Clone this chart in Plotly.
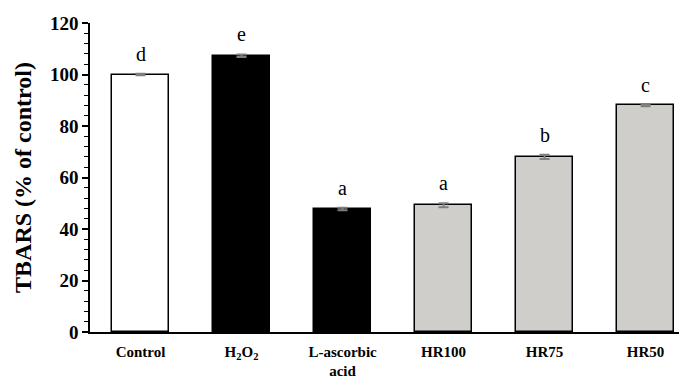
import plotly.graph_objects as go

categories = ["Control", "H<sub>2</sub>O<sub>2</sub>", "L-ascorbic<br>acid", "HR100", "HR75", "HR50"]
values = [100.0, 107.3, 47.8, 49.2, 68.0, 88.0]
errors = [0.3, 0.5, 0.5, 0.8, 0.8, 0.3]
letters = ["d", "e", "a", "a", "b", "c"]
colors = ["#ffffff", "#000000", "#000000", "#d0cecb", "#d0cecb", "#d0cecb"]

serif = "Liberation Serif, Times New Roman, serif"
xs = list(range(len(categories)))

fig = go.Figure()
fig.add_trace(go.Bar(
    x=xs,
    y=values,
    width=0.565,
    marker=dict(color=colors, line=dict(color="#000000", width=1.5)),
    error_y=dict(type="data", array=errors, visible=True, color="#7f7f7f",
                 thickness=2, width=5),
    showlegend=False,
    hoverinfo="skip",
))

for x, v, e, t in zip(xs, values, errors, letters):
    fig.add_annotation(x=x, y=v + e, xref="x", yref="y", text=t, showarrow=False,
                       yanchor="middle", yshift=20,
                       font=dict(family=serif, size=20, color="#000000"))

# the page body has an 8px default margin, so the figure sits at (8, 8)
fig.update_layout(
    width=679, height=377,
    margin=dict(l=82, r=0, t=15, b=53),
    plot_bgcolor="#ffffff", paper_bgcolor="#ffffff",
    bargap=0,
)
fig.update_xaxes(
    range=[-0.5, 5.41], automargin=False,
    tickmode="array", tickvals=xs, ticktext=categories,
    showline=True, linecolor="#000000", linewidth=1.5,
    ticks="", showgrid=False, zeroline=False, ticklabelstandoff=5,
    tickfont=dict(family=serif, size=15, color="#000000", weight="bold"),
)
fig.update_yaxes(
    range=[0, 120], dtick=20, automargin=False,
    showline=True, linecolor="#000000", linewidth=1.5,
    ticks="outside", ticklen=6, tickwidth=1.5, tickcolor="#000000",
    minor=dict(dtick=4, ticks="outside", ticklen=4, tickwidth=1.2, tickcolor="#000000"),
    showgrid=False, zeroline=False,
    tickfont=dict(family=serif, size=19, color="#000000", weight="bold"),
    title=dict(text="TBARS (% of control)", standoff=12,
               font=dict(family=serif, size=24, color="#000000", weight="bold")),
)

fig.write_html("out.html")
